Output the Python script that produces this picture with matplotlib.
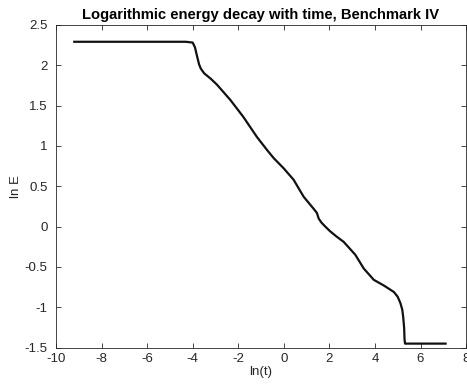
import matplotlib
matplotlib.use('Agg')
import matplotlib.pyplot as plt

# ln(t) and ln(E)
log_t = [-9.2, -4.3, -4.0, -3.9, -3.8, -3.72, -3.65, -3.5, -3.2, -2.94,
         -2.35, -1.78, -1.18, -0.74, -0.45, 0.0, 0.43, 0.87, 1.31, 1.45,
         1.53, 1.65, 1.82, 2.04, 2.3, 2.63, 3.14, 3.51, 3.95, 4.39,
         4.83, 5.0, 5.12, 5.2, 5.24, 5.28, 5.30, 5.32, 7.1]
log_E = [2.29, 2.29, 2.28, 2.22, 2.10, 2.01, 1.96, 1.90, 1.83, 1.76,
         1.57, 1.36, 1.11, 0.95, 0.85, 0.72, 0.58, 0.37, 0.22, 0.17,
         0.10, 0.05, 0.0, -0.06, -0.12, -0.19, -0.35, -0.52, -0.66, -0.73,
         -0.81, -0.87, -0.95, -1.03, -1.12, -1.25, -1.40, -1.45, -1.45]

xticks = [-10, -8, -6, -4, -2, 0, 2, 4, 6, 8]
yticks = [-1.5, -1, -0.5, 0, 0.5, 1, 1.5, 2, 2.5]

plt.rcParams['font.family'] = ['Liberation Sans', 'DejaVu Sans']

fig = plt.figure(figsize=(4.67, 3.88), dpi=100)
ax = fig.add_axes([0.12, 0.104, 0.878, 0.832])

ax.plot(log_t, log_E, color='#111111', linewidth=1.6)

ax.set_xlim(-10, 8)
ax.set_ylim(-1.5, 2.5)
ax.set_xticks(xticks)
ax.set_xticklabels([f'{v:g}' for v in xticks])
ax.set_yticks(yticks)
ax.set_yticklabels([f'{v:g}' for v in yticks])
ax.tick_params(direction='in', top=True, right=True, length=3.5,
               width=0.6, labelsize=9.5, color='#262626', labelcolor='#262626')
ax.tick_params(axis='y', pad=6)
for s in ax.spines.values():
    s.set_linewidth(0.6)
    s.set_color('#262626')

ax.set_xlabel('ln(t)', fontsize=9.5, color='#262626', labelpad=1)
ax.set_ylabel('ln E', fontsize=9.5, color='#262626', labelpad=2)
ax.set_title('Logarithmic energy decay with time, Benchmark IV',
             fontsize=10.6, fontweight='bold', pad=4)

fig.savefig('out.png', dpi=100)
